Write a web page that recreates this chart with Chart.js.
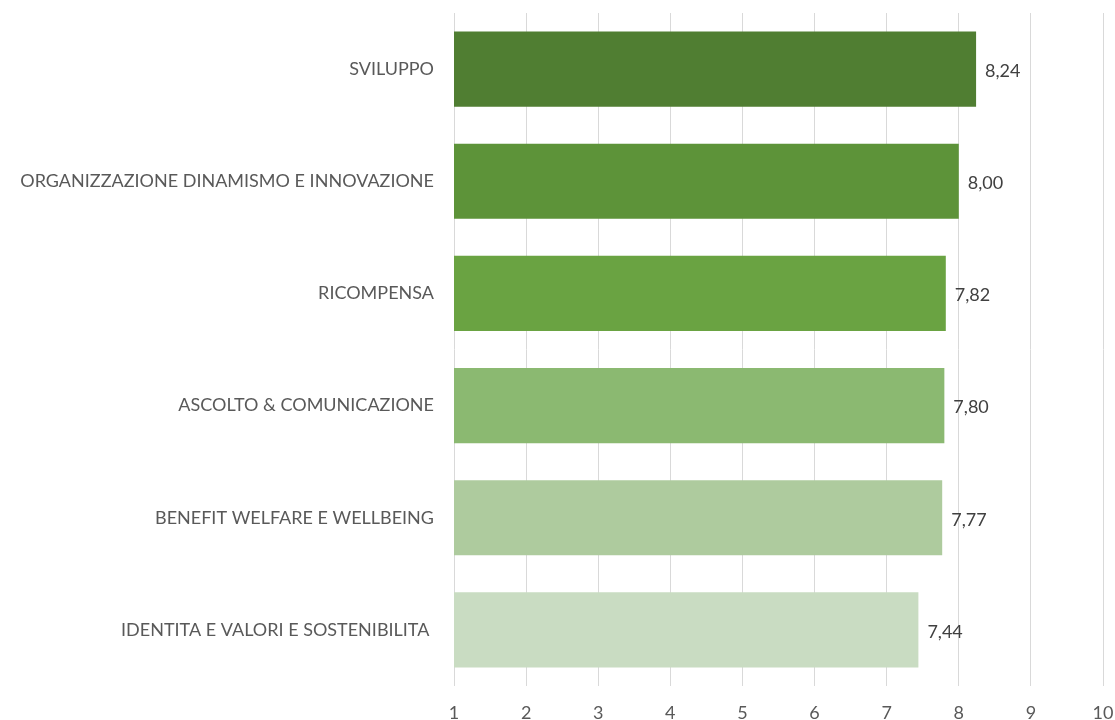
<!DOCTYPE html>
<html lang="it">
<head>
  <meta charset="UTF-8">
  <script src="https://cdn.jsdelivr.net/npm/chart.js"></script>
  <title>Punteggi per area</title>
  <style>
    body { margin: 0; background: #fff; }
    .box { width: 1115px; height: 720px; }
  </style>
</head>
<body>
  <div class="box">
    <canvas id="chartAree"></canvas>
  </div>

<script>
  // aree e punteggi medi
  const aree = [
    'SVILUPPO',
    'ORGANIZZAZIONE DINAMISMO E INNOVAZIONE',
    'RICOMPENSA',
    'ASCOLTO & COMUNICAZIONE',
    'BENEFIT WELFARE E WELLBEING',
    'IDENTITA E VALORI E SOSTENIBILITA '
  ];
  const punteggi = [8.24, 8.00, 7.82, 7.80, 7.77, 7.44];
  const colori = ['#507e32', '#5d9339', '#6aa342', '#8bb971', '#aecb9e', '#c9dcc2'];
  const tickScala = [1, 2, 3, 4, 5, 6, 7, 8, 9, 10];

  // etichette col valore a destra della barra, con la virgola
  const etichetteValori = {
    id: 'etichetteValori',
    afterDatasetsDraw(chart) {
      const ctx = chart.ctx;
      const meta = chart.getDatasetMeta(0);
      ctx.save();
      ctx.font = '18px Lato';
      ctx.fillStyle = '#404040';
      ctx.textAlign = 'left';
      ctx.textBaseline = 'middle';
      meta.data.forEach(function (bar, i) {
        const testo = punteggi[i].toFixed(2).replace('.', ',');
        ctx.fillText(testo, bar.x + 9, bar.y + 2);
      });
      ctx.restore();
    }
  };

  const configAree = {
    type: 'bar',
    data: {
      labels: aree,
      datasets: [{
        data: punteggi,
        backgroundColor: colori,
        borderWidth: 0,
        barPercentage: 0.67,
        categoryPercentage: 1
      }]
    },
    options: {
      indexAxis: 'y',
      responsive: false,
      animation: false,
      layout: { padding: { top: 13, right: 12, left: 0, bottom: 0 } },
      plugins: {
        legend: { display: false },
        tooltip: { enabled: false }
      },
      scales: {
        x: {
          min: 1,
          max: 10,
          afterBuildTicks(scale) {
            scale.ticks = tickScala.map(v => ({ value: v }));
          },
          afterFit(scale) {
            scale.height = 34;
            scale.paddingLeft = 0;
            scale.paddingRight = 0;
          },
          grid: { color: '#d9d9d9', lineWidth: 1, drawTicks: false },
          border: { display: false },
          ticks: { color: '#595959', font: { family: 'Lato', size: 18 }, padding: 16 }
        },
        y: {
          afterFit(scale) {
            scale.width = 454;
            scale.paddingTop = 0;
            scale.paddingBottom = 0;
          },
          grid: { display: false },
          border: { display: false },
          ticks: { color: '#595959', font: { family: 'Lato', size: 18 }, padding: 12 }
        }
      }
    },
    plugins: [etichetteValori]
  };

  const canvas = document.getElementById('chartAree');
  canvas.width = 1115;
  canvas.height = 720;
  new Chart(canvas, configAree);
</script>
</body>
</html>
